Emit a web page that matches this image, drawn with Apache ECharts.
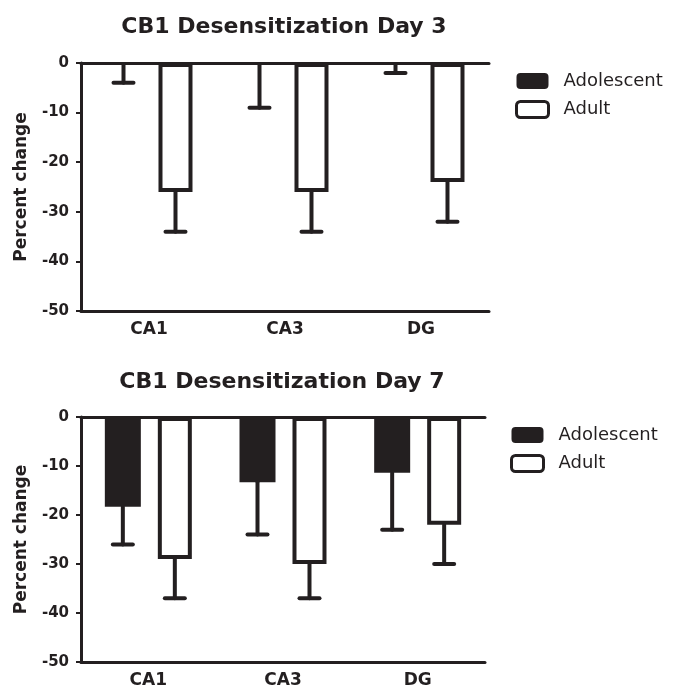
<!DOCTYPE html>
<html>
<head>
<meta charset="utf-8">
<script src="https://cdn.jsdelivr.net/npm/echarts@6/dist/echarts.min.js"></script>
<style>html,body{margin:0;padding:0;background:#fff;}#c{width:674px;height:690px;}</style>
</head>
<body>
<div id="c"></div>
<script>
const categories = ['CA1', 'CA3', 'DG'];
const yTicks = { min: -50, max: 0, interval: 10 };
const titles = ['CB1 Desensitization Day 3', 'CB1 Desensitization Day 7'];
const groupNames = ['Adolescent', 'Adult'];

// Day 3
const day3Adolescent = [-0.4, -0.3, -0.2];
const day3AdolescentLow = [-4, -9, -2];
const day3Adult = [-26, -26, -24];
const day3AdultLow = [-34, -34, -32];
// Day 7
const day7Adolescent = [-18.3, -13.3, -11.4];
const day7AdolescentLow = [-26, -24, -23];
const day7Adult = [-29, -30, -22];
const day7AdultLow = [-37, -37, -30];

const INK = '#231f20';
const FONT = 'DejaVu Sans';
const FILL_W = 36, OPEN_W = 34, GAP_PCT = 0.472, LW = 4, AX_W = 3, CAP = 20;
// same arithmetic ECharts uses to place two bars side by side in a band
const SUM = FILL_W * (1 + GAP_PCT) + OPEN_W;
const OFF_FILL = -SUM / 2 + FILL_W / 2;
const OFF_OPEN = -SUM / 2 + FILL_W * (1 + GAP_PCT) + OPEN_W / 2;

const grids = [
  { left: 81, top: 63, width: 408, height: 248 },
  { left: 81, top: 417, width: 404, height: 245 }
];

function errSeries(gi, means, lows, offset) {
  return {
    type: 'custom', xAxisIndex: gi * 2, yAxisIndex: gi, z: 5, silent: true,
    data: means.map((m, i) => [i, m, lows[i]]),
    renderItem: function (params, api) {
      const a = api.coord([api.value(0), api.value(1)]);
      const b = api.coord([api.value(0), api.value(2)]);
      const x = a[0] + offset;
      const st = { stroke: INK, lineWidth: LW, lineCap: 'round' };
      return { type: 'group', children: [
        { type: 'line', shape: { x1: x, y1: a[1], x2: x, y2: b[1] }, style: st },
        { type: 'line', shape: { x1: x - CAP / 2, y1: b[1], x2: x + CAP / 2, y2: b[1] }, style: st }
      ]};
    }
  };
}

function barSeries(gi, name, data, filled) {
  return {
    type: 'bar', name: name, xAxisIndex: gi * 2, yAxisIndex: gi,
    data: data, barWidth: filled ? FILL_W : OPEN_W, barGap: (GAP_PCT * 100) + '%',
    itemStyle: filled ? { color: INK, borderWidth: 0 } : { color: '#fff', borderColor: INK, borderWidth: LW },
    emphasis: { disabled: true }
  };
}

const xAxes = [], yAxes = [];
grids.forEach((g, gi) => {
  xAxes.push({
    type: 'category', gridIndex: gi, data: categories, position: 'bottom',
    axisLine: { onZero: false, lineStyle: { color: INK, width: AX_W } },
    axisTick: { alignWithLabel: true, length: 6, lineStyle: { color: INK, width: 2 } },
    axisLabel: { color: INK, fontFamily: FONT, fontWeight: 'bold', fontSize: 17, margin: 10 }
  });
  xAxes.push({
    type: 'category', gridIndex: gi, data: categories, position: 'top',
    axisLine: { onZero: false, lineStyle: { color: INK, width: AX_W } },
    axisTick: { show: false }, axisLabel: { show: false }
  });
  yAxes.push({
    type: 'value', gridIndex: gi, min: yTicks.min, max: yTicks.max, interval: yTicks.interval,
    name: 'Percent change', nameLocation: 'middle', nameGap: 51,
    nameTextStyle: { color: INK, fontFamily: FONT, fontWeight: 'bold', fontSize: 17 },
    axisLine: { show: true, lineStyle: { color: INK, width: AX_W } },
    axisTick: { show: true, length: 5, lineStyle: { color: INK, width: 2 } },
    splitLine: { show: false },
    axisLabel: { color: INK, fontFamily: FONT, fontWeight: 'bold', fontSize: 15, margin: 12 }
  });
});

const legendData = [
  { name: groupNames[0], icon: 'roundRect', itemStyle: { color: INK, borderColor: INK, borderWidth: 0 } },
  { name: groupNames[1], icon: 'roundRect', itemStyle: { color: '#fff', borderColor: INK, borderWidth: 3 } }
];
function legend(left, top) {
  return {
    orient: 'vertical', left: left, top: top, padding: 0, itemGap: 10,
    itemWidth: 32, itemHeight: 16, selectedMode: false,
    data: legendData,
    textStyle: { color: INK, fontFamily: FONT, fontSize: 18, padding: [0, 0, 0, 10] }
  };
}

const option = {
  animation: false,
  backgroundColor: '#fff',
  title: [
    { text: titles[0], left: 284, top: 16, padding: 0, textAlign: 'center',
      textStyle: { color: INK, fontFamily: FONT, fontWeight: 'bold', fontSize: 22 } },
    { text: titles[1], left: 282, top: 371, padding: 0, textAlign: 'center',
      textStyle: { color: INK, fontFamily: FONT, fontWeight: 'bold', fontSize: 22 } }
  ],
  legend: [legend(515, 72), legend(510, 426)],
  grid: grids,
  xAxis: xAxes,
  yAxis: yAxes,
  series: [
    barSeries(0, groupNames[0], day3Adolescent, true),
    barSeries(0, groupNames[1], day3Adult, false),
    errSeries(0, day3Adolescent, day3AdolescentLow, OFF_FILL),
    errSeries(0, day3Adult, day3AdultLow, OFF_OPEN),
    barSeries(1, groupNames[0], day7Adolescent, true),
    barSeries(1, groupNames[1], day7Adult, false),
    errSeries(1, day7Adolescent, day7AdolescentLow, OFF_FILL),
    errSeries(1, day7Adult, day7AdultLow, OFF_OPEN)
  ]
};
echarts.init(document.getElementById('c')).setOption(option);
</script>
</body>
</html>
